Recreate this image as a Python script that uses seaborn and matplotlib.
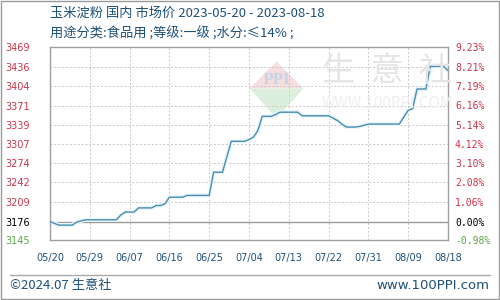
import numpy as np
import pandas as pd
import seaborn as sns
import matplotlib
matplotlib.use("Agg")
import matplotlib.pyplot as plt
from matplotlib.patches import Polygon

# ---- data ----
title_line1 = "玉米淀粉 国内 市场价 2023-05-20 - 2023-08-18"
title_line2 = "用途分类:食品用 ;等级:一级 ;水分:≤14% ;"
dates = pd.date_range("2023-05-20", "2023-08-18", freq="D")
prices = [3176, 3173, 3170, 3170, 3170, 3170, 3175, 3177,
          3179, 3179, 3179, 3179, 3179, 3179, 3179, 3179,
          3187, 3192, 3192, 3192, 3199, 3199, 3199, 3199,
          3203, 3203, 3206, 3217, 3217, 3217, 3217,
          3220, 3220, 3220, 3220, 3220, 3220,
          3259, 3259, 3259, 3285, 3311, 3311, 3311, 3311,
          3314, 3318, 3329, 3353, 3353, 3353, 3356,
          3360, 3360, 3360, 3360, 3360,
          3354, 3354, 3354, 3354, 3354, 3354, 3354,
          3350, 3346, 3340, 3335, 3335, 3335, 3336, 3338,
          3340, 3340, 3340, 3340, 3340, 3340, 3340, 3340,
          3352, 3363, 3366, 3399, 3399, 3399,
          3437, 3437, 3437, 3437, 3430]
base_price = 3176
left_ticks = [3145, 3176, 3209, 3242, 3274, 3307, 3339, 3371, 3404, 3436, 3469]
right_tick_labels = ["-0.98%", "0.00%", "1.06%", "2.08%", "3.10%", "4.12%",
                     "5.14%", "6.16%", "7.19%", "8.21%", "9.23%"]
x_tick_labels = ["05/20", "05/29", "06/07", "06/16", "06/25", "07/04",
                 "07/13", "07/22", "07/31", "08/09", "08/18"]
footer_left = "©2024.07 生意社"
footer_right = "www.100PPI.com"

df = pd.DataFrame({"day": np.arange(len(dates)), "price": prices})

sns.set_theme(style="white")
plt.rcParams["font.family"] = ["Noto Sans CJK SC", "DejaVu Sans"]

RED = "#cc3347"
GREEN = "#5aa846"
BLUE = "#1d5078"
LINE = "#4a8cad"
GRID = "#c8c8c8"

fig = plt.figure(figsize=(5, 3), dpi=100)
ax = fig.add_axes([0.1, 0.2, 0.796, 0.642])

# watermark (logo + text)
cx, cy, r = 0.553, 0.705, 0.09
fig.add_artist(Polygon([(cx - r * 0.6, cy), (cx, cy + r), (cx + r * 0.6, cy)], closed=True,
                       transform=fig.transFigure, facecolor="#f6dede", edgecolor="none", zorder=0))
fig.add_artist(Polygon([(cx - r * 0.6, cy), (cx, cy - r * 1.1), (cx + r * 0.6, cy)], closed=True,
                       transform=fig.transFigure, facecolor="#dcefdc", edgecolor="none", zorder=0))
fig.text(cx, cy + 0.03, "PPI", fontsize=10, color="#c9d3e6", ha="center", va="center",
         fontweight="bold", family="DejaVu Serif", zorder=0)
fig.text(0.775, 0.76, "生  意  社", fontsize=24, color="#e5e5e5",
         ha="center", va="center", family=["Noto Sans CJK SC", "DejaVu Sans"], zorder=0)
fig.text(0.775, 0.655, "WWW.100PPI.COM", fontsize=11, color="#eeeeee",
         ha="center", va="center", zorder=0)

ax.set_facecolor("none")
sns.lineplot(data=df, x="day", y="price", ax=ax, color="#e8f6fb", lw=3, zorder=2)
sns.lineplot(data=df, x="day", y="price", ax=ax, color=LINE, lw=1.0, zorder=3)

ax.set_xlim(0, len(dates) - 1)
ax.set_ylim(3145, 3469)
ax.set_xticks(np.arange(0, len(dates), 9))
ax.set_xticklabels(x_tick_labels, fontsize=7, color=BLUE, family="DejaVu Sans")
ax.set_yticks(left_ticks)
ax.set_yticklabels([str(v) for v in left_ticks], fontsize=7, family="DejaVu Sans", ha="left")
for t, v in zip(ax.get_yticklabels(), left_ticks):
    t.set_color(RED if v > base_price else ("black" if v == base_price else GREEN))
ax.tick_params(axis="y", length=0, pad=32)
ax.tick_params(axis="x", length=0, pad=9)
ax.set_xlabel("")
ax.set_ylabel("")
ax.grid(True, color=GRID, linestyle=(0, (2, 2)), lw=0.7)
ax.axhline(base_price, color="#9a9a9a", lw=1.0, zorder=1)
for s in ax.spines.values():
    s.set_color("#a0a0a0")
    s.set_linewidth(1.0)

ax2 = ax.twinx()
lo, hi = ax.get_ylim()
ax2.set_ylim((lo / base_price - 1) * 100, (hi / base_price - 1) * 100)
pct_vals = [float(s.rstrip("%")) for s in right_tick_labels]
ax2.set_yticks(pct_vals)
ax2.set_yticklabels(right_tick_labels, fontsize=7, family="DejaVu Sans Mono")
for t, v in zip(ax2.get_yticklabels(), pct_vals):
    t.set_color(RED if v > 0 else ("black" if v == 0 else GREEN))
ax2.tick_params(axis="y", length=0, pad=5)
ax2.grid(False)
for s in ax2.spines.values():
    s.set_visible(False)

# titles
fig.text(0.1, 0.955, title_line1, fontsize=9.5, color=BLUE, ha="left", va="center")
fig.text(0.1, 0.888, title_line2, fontsize=9.5, color=BLUE, ha="left", va="center")

# footer
fig.add_artist(plt.Line2D([0.02, 0.98], [0.083, 0.083], color="#a8a8a8", lw=1.0))
fig.text(0.02, 0.047, footer_left, fontsize=9.5, color=BLUE, ha="left", va="center")
fig.text(0.978, 0.047, footer_right, fontsize=9.5, color=BLUE, ha="right", va="center",
         family="DejaVu Sans")

# outer border
fig.add_artist(plt.Rectangle((0.001, 0.002), 0.997, 0.995, fill=False,
                             edgecolor="#9a9a9a", lw=1.0, transform=fig.transFigure))

fig.savefig("out.png", dpi=100)
